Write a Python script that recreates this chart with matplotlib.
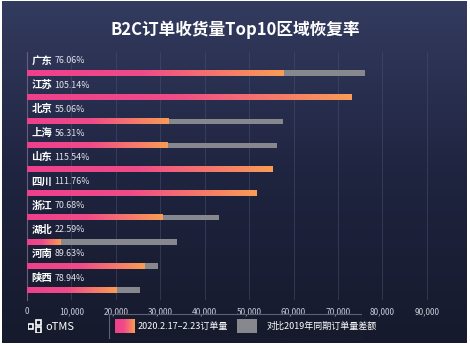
import matplotlib
matplotlib.use("Agg")
import matplotlib.pyplot as plt
import numpy as np
from matplotlib.colors import LinearSegmentedColormap
from matplotlib.patches import Rectangle

plt.rcParams['font.family'] = ['Noto Sans CJK SC', 'DejaVu Sans']

regions = ["广东", "江苏", "北京", "上海", "山东", "四川", "浙江", "湖北", "河南", "陕西"]
rates = ["76.06%", "105.14%", "55.06%", "56.31%", "115.54%",
         "111.76%", "70.68%", "22.59%", "89.63%", "78.94%"]
orders_2019 = [76000, 69430, 57700, 56300, 47775, 46170, 43300, 33800, 29500, 25500]
orders_2020 = [57806, 73000, 31770, 31703, 55200, 51600, 30604, 7635, 26441, 20130]
xticks = [0, 10000, 20000, 30000, 40000, 50000, 60000, 70000, 80000, 90000]

W, H = 470, 348
fig = plt.figure(figsize=(W / 100, H / 100), dpi=100, facecolor="white")

# dark gradient panel
bg = fig.add_axes([2 / W, 5 / H, 465 / W, 342 / H])
bg_cmap = LinearSegmentedColormap.from_list("bg", ["#161a2c", "#1f2440", "#333b5f"])
bg.imshow(np.linspace(0, 1, 256).reshape(-1, 1), cmap=bg_cmap, aspect="auto",
          origin="lower", extent=[0, 1, 0, 1])
bg.set_xlim(0, 1)
bg.set_ylim(0, 1)
bg.axis("off")

fig.text(235 / W, 1 - 30 / H, "B2C订单收货量Top10区域恢复率", color="white",
         fontsize=12, fontweight="bold", ha="center", va="center")

ax = fig.add_axes([27 / W, 48 / H, 422 / W, 248 / H])
ax.patch.set_alpha(0)
bar_cmap = LinearSegmentedColormap.from_list(
    "bar", [(0, "#ee3f8c"), (0.45, "#f04b88"), (1, "#f99c55")])

bh = 0.22
for i, (old, new) in enumerate(zip(orders_2019, orders_2020)):
    ax.barh(i, old, height=bh, color="#87888e", zorder=2)
    ax.imshow(np.linspace(0, 1, 128).reshape(1, -1), cmap=bar_cmap, aspect="auto",
              extent=[0, new, i + bh / 2, i - bh / 2], zorder=3)
    ax.text(1000, i - 0.5, regions[i], color="white", fontsize=7.5,
            fontweight="bold", va="center", ha="left")
    ax.text(6200, i - 0.5, rates[i], color="#e4e4ec", fontsize=6.4,
            va="center", ha="left")

ax.set_xlim(0, 95000)
ax.set_ylim(9.41, -0.87)
ax.set_xticks(xticks)
ax.set_xticklabels([f"{v:,}" for v in xticks], fontsize=6, color="#c8cad6")
ax.set_yticks([])
ax.tick_params(axis="x", length=0, pad=5)
ax.grid(axis="x", color="#4a5070", linewidth=0.6, alpha=0.6, zorder=0)
for s in ["top", "right", "bottom"]:
    ax.spines[s].set_visible(False)
ax.spines["left"].set_color("#6e5c7c")
ax.spines["left"].set_linewidth(0.8)

# legend box
leg = fig.add_axes([108 / W, 9 / H, 254 / W, 26 / H])
leg.imshow(np.linspace(0, 1, 64).reshape(1, -1), cmap=bar_cmap, aspect="auto",
           extent=[7, 27, 6, 20])
leg.add_patch(Rectangle((0.5, 0.5), 253, 25, facecolor="none",
                        edgecolor="#5c6178", linewidth=0.8))
leg.add_patch(Rectangle((129, 6), 20, 14, facecolor="#87888e", edgecolor="none"))
leg.set_xlim(0, 254)
leg.set_ylim(0, 26)
leg.axis("off")
leg.text(30, 13, "2020.2.17–2.23订单量", color="white", fontsize=6.5, va="center")
leg.text(159, 13, "对比2019年同期订单量差额", color="white", fontsize=6.5, va="center")

# oTMS logo
logo = fig.add_axes([28 / W, 15 / H, 14 / W, 14 / H])
logo.set_xlim(0, 14)
logo.set_ylim(0, 14)
logo.axis("off")
for (x, y, w, h) in [(0, 4, 5, 5), (8, 8, 5, 5), (8, 0, 5, 6)]:
    logo.add_patch(Rectangle((x, y), w, h, facecolor="none",
                             edgecolor="white", linewidth=1.2))
fig.text(45 / W, 1 - 327 / H, "oTMS", color="white", fontsize=8,
         va="center", ha="left")

fig.savefig("out.png", dpi=100, facecolor="white")
